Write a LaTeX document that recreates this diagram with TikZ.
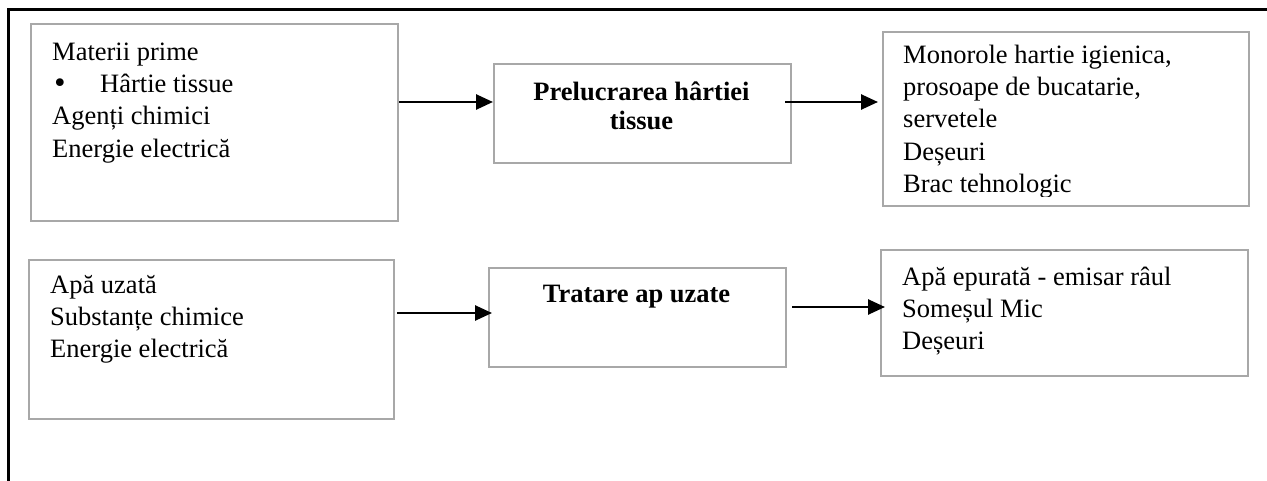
\documentclass[tikz,border=0pt]{standalone}
\usepackage{fontspec}
\setmainfont{Liberation Serif}
\newfontfamily\djv{DejaVu Sans}
\usetikzlibrary{arrows.meta}
\definecolor{boxgray}{HTML}{A8A8A8}
\tikzset{
  box/.style={draw=boxgray, line width=2.4pt, inner sep=0pt, anchor=north west},
  txt/.style={inner sep=0pt, anchor=north west, align=left, font=\fontsize{26.5}{32.3}\selectfont},
  btxt/.style={inner sep=0pt, anchor=north, align=center, font=\fontsize{26.5}{28.5}\selectfont\bfseries},
  arr/.style={line width=2.6pt, -{Triangle[length=17pt,width=15pt]}},
  frame/.style={line width=3pt}
}
\begin{document}
\begin{tikzpicture}[x=1pt,y=-1pt]
\useasboundingbox (0,0) rectangle (1267,481);
% outer frame
\coordinate (ftl) at (8,10);
\coordinate (ftr) at (1267,10);
\coordinate (fbl) at (8,481);
\draw[frame] (fbl) -- (ftl) -- (ftr);
% boxes
\node[box, minimum width=367pt, minimum height=197pt] (b1) at (30,23) {};
\node[box, minimum width=297pt, minimum height=99pt] (b2) at (493,63) {};
\node[box, minimum width=366pt, minimum height=174pt] (b3) at (882,31) {};
\node[box, minimum width=365pt, minimum height=159pt] (b4) at (28,259) {};
\node[box, minimum width=297pt, minimum height=99pt] (b5) at (488,267) {};
\node[box, minimum width=367pt, minimum height=126pt] (b6) at (880,249) {};
% texts
\node[txt] (t1) at (52,37.4) {\strut Materii prime\\\strut\makebox[48pt][l]{\hspace{0pt}{\djv •}}Hârtie tissue\\\strut Agenți chimici\\\strut Energie electrică};
\node[btxt] (t2) at (641.5,80.5) {\strut Prelucrarea hârtiei\\\strut tissue};
\begin{scope}
\clip (884,33) rectangle (1246,197);
\node[txt] (t3) at (903,40.4) {\strut Monorole hartie igienica,\\\strut prosoape de bucatarie,\\\strut servetele\\\strut Deșeuri\\\strut Brac tehnologic};
\end{scope}
\node[txt] (t4) at (50,270.4) {\strut Apă uzată\\\strut Substanțe chimice\\\strut Energie electrică};
\node[btxt, font=\fontsize{26.5}{32.3}\selectfont\bfseries] (t5) at (636.5,279.4) {\strut Tratare ap uzate};
\node[txt] (t6) at (902,262.4) {\strut Apă epurată - emisar râul\\\strut Someșul Mic\\\strut Deșeuri};
% arrows
\draw[arr] (b1.east |- 0,102) -- (b2.west |- 0,102);
\draw[arr] ([xshift=-7pt]b2.east |- 0,102) -- ([xshift=-4pt]b3.west |- 0,102);
\draw[arr] ([xshift=2pt]b4.east |- 0,313) -- ([xshift=4pt]b5.west |- 0,313);
\draw[arr] ([xshift=5pt]b5.east |- 0,307) -- ([xshift=5pt]b6.west |- 0,307);
\end{tikzpicture}
\end{document}
